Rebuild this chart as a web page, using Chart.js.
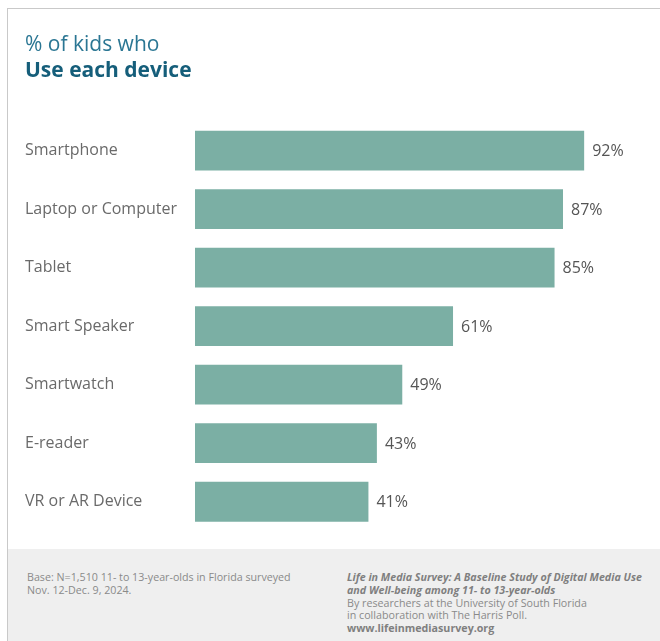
<!DOCTYPE html>
<html>
<head>
<meta charset="utf-8">
<script src="https://cdn.jsdelivr.net/npm/chart.js@4.4.1/dist/chart.umd.min.js"></script>
<style>
  html, body { margin: 0; padding: 0; background: #fff; }
  body { width: 660px; height: 641px; position: relative; overflow: hidden; font-family: "Open Sans", sans-serif; }
  #frame { position: absolute; left: 7px; top: 8px; right: 0; bottom: 0; border-left: 1px solid #c9c9c9; border-top: 1px solid #c9c9c9; }
  #plot { position: absolute; left: 0; top: 0; width: 652px; height: 540px; }
  #foot { position: absolute; left: 0; top: 540px; right: 0; bottom: 0; background: #efefef; color: #8a8a8a; font-size: 10.7px; line-height: 12.8px; }
  #foot .l { position: absolute; left: 19px; top: 22px; }
  #foot .r { position: absolute; left: 339px; top: 22px; }
  #foot b { color: #7f7f7f; }
</style>
</head>
<body>
<div id="frame">
  <div id="plot"><canvas id="c"></canvas></div>
  <div id="foot">
    <div class="l">Base: N=1,510 11- to 13-year-olds in Florida surveyed<br>Nov. 12-Dec. 9, 2024.</div>
    <div class="r"><b><i>Life in Media Survey: A Baseline Study of Digital Media Use<br>and Well-being among 11- to 13-year-olds</i></b><br>By researchers at the University of South Florida<br>in collaboration with The Harris Poll.<br><b>www.lifeinmediasurvey.org</b></div>
  </div>
</div>
<script>
// devices and share of kids using each (%)
var devices = ['Smartphone', 'Laptop or Computer', 'Tablet', 'Smart Speaker', 'Smartwatch', 'E-reader', 'VR or AR Device'];
var shares = [92, 87, 85, 61, 49, 43, 41];

// writes "NN%" just past the end of each bar
var valueLabels = {
  id: 'valueLabels',
  afterDatasetsDraw: function (chart) {
    var ctx = chart.ctx;
    var meta = chart.getDatasetMeta(0);
    ctx.save();
    ctx.font = '16px "Open Sans"';
    ctx.fillStyle = '#555';
    ctx.textBaseline = 'middle';
    ctx.textAlign = 'left';
    meta.data.forEach(function (bar, i) {
      ctx.fillText(shares[i] + '%', bar.x + 8, bar.y + 1);
    });
    ctx.restore();
  }
};

new Chart(document.getElementById('c'), {
  type: 'bar',
  data: {
    labels: devices,
    datasets: [{
      data: shares,
      backgroundColor: '#7bafa4',
      borderWidth: 0,
      barPercentage: 0.85,
      categoryPercentage: 0.8
    }]
  },
  options: {
    indexAxis: 'y',
    responsive: true,
    maintainAspectRatio: false,
    animation: false,
    layout: { padding: { left: 17, right: 42, top: 0, bottom: 18 } },
    plugins: {
      legend: { display: false },
      tooltip: { enabled: false },
      title: {
        display: true,
        text: '% of kids who',
        align: 'start',
        color: '#2a7693',
        font: { family: 'Open Sans', size: 21, weight: 'normal', lineHeight: 1.2 },
        padding: { top: 23, bottom: 1 }
      },
      subtitle: {
        display: true,
        text: 'Use each device',
        align: 'start',
        color: '#155e7a',
        font: { family: 'Open Sans', size: 21, weight: 'bold', lineHeight: 1.2 },
        padding: { top: 0, bottom: 38 }
      }
    },
    scales: {
      x: { display: false, min: 0, max: 100 },
      y: {
        grid: { display: false },
        border: { display: false },
        afterFit: function (scale) { scale.width = 170; },
        ticks: {
          crossAlign: 'far',
          color: '#6a6a6a',
          padding: 0,
          font: { family: 'Open Sans', size: 16 }
        }
      }
    }
  },
  plugins: [valueLabels]
});
</script>
</body>
</html>
